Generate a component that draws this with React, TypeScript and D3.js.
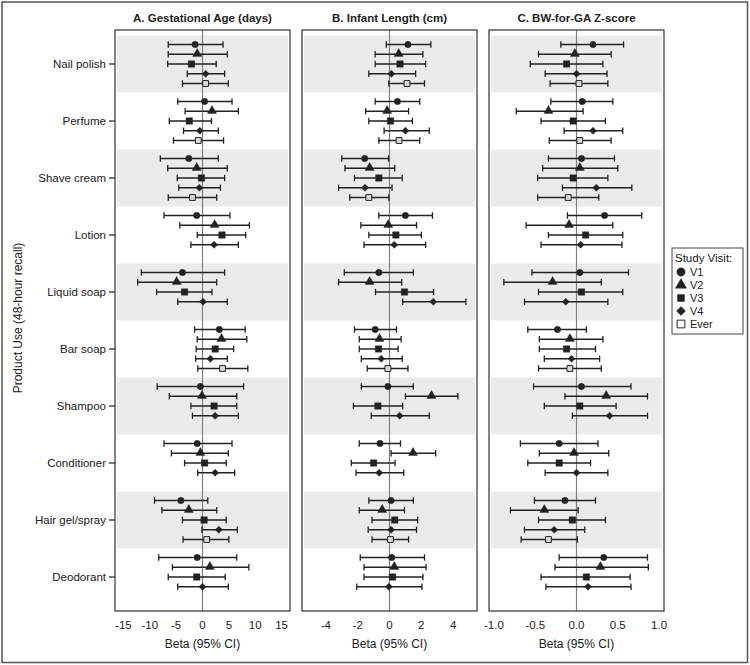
import React, { useEffect, useRef } from 'react';
import * as d3 from 'd3';

// Product categories, top to bottom
const categories = [
  'Nail polish', 'Perfume', 'Shave cream', 'Lotion', 'Liquid soap',
  'Bar soap', 'Shampoo', 'Conditioner', 'Hair gel/spray', 'Deodorant',
];

const visits = ['V1', 'V2', 'V3', 'V4', 'Ever'];

const panelTitles = ['A. Gestational Age (days)', 'B. Infant Length (cm)', 'C. BW-for-GA Z-score'];

// [estimate, lower, upper] per visit (V1..V4, Ever); null where not estimated
const gestationalAge = [
  [[-1.4, -6.5, 3.9], [-1.0, -6.5, 4.7], [-2.1, -6.6, 2.6], [0.6, -2.9, 4.2], [0.6, -3.8, 4.9]],
  [[0.4, -4.7, 5.6], [1.8, -3.3, 6.8], [-2.5, -6.3, 1.7], [-0.5, -3.6, 3.0], [-0.8, -5.5, 4.0]],
  [[-2.6, -8.0, 3.0], [-1.1, -6.6, 4.7], [-0.2, -4.8, 4.2], [-0.6, -4.5, 3.4], [-1.9, -6.5, 2.7]],
  [[-1.1, -7.3, 5.2], [2.3, -4.3, 8.9], [3.7, -1.0, 8.2], [2.2, -2.2, 6.8], null],
  [[-3.8, -11.6, 4.2], [-4.9, -12.3, 2.7], [-3.4, -8.7, 1.8], [0.1, -4.7, 4.7], null],
  [[3.2, -1.5, 8.1], [3.6, -1.0, 8.4], [2.4, -1.2, 5.9], [1.5, -1.3, 4.7], [3.8, -0.9, 8.6]],
  [[-0.4, -8.6, 7.8], [-0.1, -6.3, 6.5], [2.2, -2.2, 6.5], [2.4, -1.9, 6.8], null],
  [[-1.0, -7.3, 5.6], [-0.4, -5.9, 4.9], [0.4, -3.4, 4.5], [2.4, -0.9, 6.1], null],
  [[-4.1, -9.1, 1.0], [-2.6, -7.7, 2.7], [0.3, -3.8, 4.5], [3.1, -0.1, 6.6], [0.8, -3.7, 5.0]],
  [[-1.0, -8.3, 6.5], [1.4, -5.7, 8.8], [-1.1, -6.5, 4.3], [0.0, -4.7, 4.9], null],
];

const infantLength = [
  [[1.16, -0.2, 2.6], [0.58, -0.9, 2.1], [0.66, -0.9, 2.27], [0.12, -1.3, 1.64], [1.1, -0.04, 2.2]],
  [[0.5, -0.9, 1.9], [-0.15, -1.5, 1.2], [0.06, -1.3, 1.44], [1.0, -0.34, 2.5], [0.6, -0.67, 1.9]],
  [[-1.56, -3.0, -0.06], [-1.25, -2.8, 0.33], [-0.67, -2.2, 0.8], [-1.54, -3.2, 0.16], [-1.3, -2.5, -0.04]],
  [[1.0, -0.67, 2.7], [-0.08, -1.8, 1.7], [0.4, -1.3, 2.0], [0.3, -1.6, 2.27], null],
  [[-0.67, -2.84, 1.5], [-1.25, -3.2, 0.77], [0.94, -0.88, 2.77], [2.75, 0.83, 4.8], null],
  [[-0.9, -2.2, 0.44], [-0.63, -1.9, 0.73], [-0.69, -1.9, 0.54], [-0.52, -1.77, 0.8], [-0.1, -1.4, 1.16]],
  [[-0.1, -1.77, 1.5], [2.64, 1.0, 4.3], [-0.73, -2.27, 0.83], [0.64, -1.15, 2.5], null],
  [[-0.6, -1.9, 0.69], [1.48, 0.1, 2.9], [-1.0, -2.4, 0.35], [-0.65, -2.1, 0.9], null],
  [[0.1, -1.3, 1.5], [-0.46, -1.9, 0.94], [0.33, -1.1, 1.77], [0.1, -1.34, 1.7], [0.06, -1.1, 1.2]],
  [[0.14, -1.84, 2.2], [0.3, -1.6, 2.3], [0.19, -1.6, 2.1], [-0.04, -2.06, 2.04], null],
];

const bwZScore = [
  [[0.2, -0.19, 0.57], [-0.02, -0.46, 0.42], [-0.12, -0.56, 0.32], [0.0, -0.38, 0.37], [0.03, -0.32, 0.38]],
  [[0.07, -0.31, 0.44], [-0.34, -0.73, 0.08], [-0.04, -0.43, 0.35], [0.2, -0.15, 0.56], [0.04, -0.33, 0.42]],
  [[0.06, -0.34, 0.46], [0.04, -0.41, 0.5], [-0.04, -0.47, 0.38], [0.24, -0.17, 0.67], [-0.1, -0.47, 0.27]],
  [[0.34, -0.11, 0.79], [-0.09, -0.61, 0.44], [0.11, -0.34, 0.56], [0.05, -0.43, 0.55], null],
  [[0.04, -0.54, 0.63], [-0.29, -0.88, 0.3], [0.06, -0.46, 0.56], [-0.13, -0.63, 0.38], null],
  [[-0.23, -0.59, 0.12], [-0.08, -0.45, 0.32], [-0.12, -0.45, 0.23], [-0.06, -0.39, 0.28], [-0.08, -0.46, 0.3]],
  [[0.06, -0.52, 0.66], [0.36, -0.14, 0.86], [0.04, -0.39, 0.48], [0.4, -0.05, 0.86], null],
  [[-0.21, -0.68, 0.26], [-0.03, -0.45, 0.39], [-0.21, -0.59, 0.17], [0.0, -0.38, 0.38], null],
  [[-0.14, -0.51, 0.23], [-0.39, -0.8, 0.02], [-0.05, -0.46, 0.35], [-0.27, -0.63, 0.1], [-0.34, -0.67, 0.01]],
  [[0.33, -0.21, 0.86], [0.29, -0.26, 0.87], [0.12, -0.43, 0.65], [0.14, -0.37, 0.66], null],
];

const xTicksA = [-15, -10, -5, 0, 5, 10, 15];
const xTicksB = [-4, -2, 0, 2, 4];
const xTicksC = [-1.0, -0.5, 0.0, 0.5, 1.0];

// plain hyphen for negatives, as in the original figure
const fmtInt = (v) => d3.format('d')(v).replace('\u2212', '-');
const fmtDec = (v) => d3.format('.1f')(v).replace('\u2212', '-');

const App = () => {
  const ref = useRef(null);

  useEffect(() => {
    const root = d3.select(ref.current);
    root.selectAll('*').remove();

    const W = 750;
    const H = 665;
    const font = 'Liberation Sans, Arial, sans-serif';
    const ink = '#222';

    const svg = root
      .append('svg')
      .attr('width', W)
      .attr('height', H)
      .style('position', 'absolute')
      .style('left', '0px')
      .style('top', '0px')
      .style('font-family', font);

    svg.append('rect').attr('width', W).attr('height', H).attr('fill', '#fff');

    // outer frame
    svg.append('rect')
      .attr('x', 2).attr('y', 2).attr('width', W - 4.5).attr('height', H - 4.5)
      .attr('fill', 'none').attr('stroke', '#555').attr('stroke-width', 1.5);

    const top = 30;
    const bottom = 611;

    const y = d3.scaleBand().domain(categories).range([35.5, 605.5]).paddingInner(0);
    const dy = d3.scalePoint().domain(visits).range([-19.5, 19.5]);

    // V4 diamond is a square turned 45 degrees
    const symbols = [d3.symbolCircle, d3.symbolTriangle, d3.symbolSquare, d3.symbolSquare, d3.symbolSquare];
    const rotations = [0, 0, 0, 45, 0];
    const sizes = [32, 36, 42, 26, 34];

    const panels = [
      { x0: 115, x1: 290, domain: [-16.6, 16.6], ticks: xTicksA, fmt: fmtInt, data: gestationalAge },
      { x0: 302, x1: 477, domain: [-5.5, 5.5], ticks: xTicksB, fmt: fmtInt, data: infantLength },
      { x0: 489, x1: 664, domain: [-1.06, 1.06], ticks: xTicksC, fmt: fmtDec, data: bwZScore },
    ];

    panels.forEach((p, pi) => {
      const x = d3.scaleLinear().domain(p.domain).range([p.x0, p.x1]);
      const g = svg.append('g');

      // alternating shaded bands
      categories.forEach((c, ci) => {
        if (ci % 2 === 0) {
          g.append('rect')
            .attr('x', p.x0 + 2).attr('y', y(c))
            .attr('width', p.x1 - p.x0 - 4).attr('height', y.bandwidth())
            .attr('fill', '#ebebeb');
        }
      });

      // reference line at zero
      g.append('line')
        .attr('x1', x(0)).attr('x2', x(0)).attr('y1', top).attr('y2', bottom)
        .attr('stroke', '#808080').attr('stroke-width', 1.2);

      // error bars and markers
      p.data.forEach((rows, ci) => {
        const cy = y(categories[ci]) + y.bandwidth() / 2;
        rows.forEach((r, vi) => {
          if (!r) return;
          const [est, lo, hi] = r;
          const ry = cy + dy(visits[vi]);
          g.append('line')
            .attr('x1', x(lo)).attr('x2', x(hi)).attr('y1', ry).attr('y2', ry)
            .attr('stroke', ink).attr('stroke-width', 1.3);
          [lo, hi].forEach((v) => {
            g.append('line')
              .attr('x1', x(v)).attr('x2', x(v)).attr('y1', ry - 3.2).attr('y2', ry + 3.2)
              .attr('stroke', ink).attr('stroke-width', 1.3);
          });
          const ty = vi === 1 ? ry - 0.5 : ry;
          g.append('path')
            .attr('d', d3.symbol().type(symbols[vi]).size(sizes[vi])())
            .attr('transform', `translate(${x(est)},${ty}) rotate(${rotations[vi]})`)
            .attr('fill', vi === 4 ? '#d9d9d9' : ink)
            .attr('stroke', ink)
            .attr('stroke-width', vi === 4 ? 1 : 0.4);
        });
      });

      // panel frame
      g.append('rect')
        .attr('x', p.x0).attr('y', top).attr('width', p.x1 - p.x0).attr('height', bottom - top)
        .attr('fill', 'none').attr('stroke', '#333').attr('stroke-width', 1.2);

      // x tick labels
      p.ticks.forEach((t) => {
        g.append('text')
          .attr('x', x(t)).attr('y', 629)
          .attr('text-anchor', 'middle')
          .attr('font-size', 11.5).attr('fill', ink)
          .text(p.fmt(t));
      });

      g.append('text')
        .attr('x', (p.x0 + p.x1) / 2).attr('y', 648)
        .attr('text-anchor', 'middle')
        .attr('font-size', 12).attr('fill', ink)
        .text('Beta (95% CI)');

      g.append('text')
        .attr('x', (p.x0 + p.x1) / 2).attr('y', 22)
        .attr('text-anchor', 'middle')
        .attr('font-size', 11.5).attr('font-weight', 'bold').attr('fill', ink)
        .text(panelTitles[pi]);
    });

    // category axis
    categories.forEach((c) => {
      const cy = y(c) + y.bandwidth() / 2;
      svg.append('line')
        .attr('x1', 109).attr('x2', 115).attr('y1', cy).attr('y2', cy)
        .attr('stroke', ink).attr('stroke-width', 1.2);
      svg.append('text')
        .attr('x', 106).attr('y', cy + 4)
        .attr('text-anchor', 'end')
        .attr('font-size', 11.5).attr('fill', ink)
        .text(c);
    });

    svg.append('text')
      .attr('transform', 'translate(22,318) rotate(-90)')
      .attr('text-anchor', 'middle')
      .attr('font-size', 12).attr('fill', ink)
      .text('Product Use (48-hour recall)');

    // legend
    const lg = svg.append('g');
    lg.append('rect')
      .attr('x', 672).attr('y', 248).attr('width', 71).attr('height', 86)
      .attr('fill', '#fff').attr('stroke', '#444').attr('stroke-width', 1);
    lg.append('text')
      .attr('x', 675).attr('y', 262)
      .attr('font-size', 11.5).attr('fill', ink)
      .text('Study Visit:');
    const legendSizes = [55, 55, 50, 40, 60];
    visits.forEach((v, vi) => {
      const ly = 272 + vi * 13;
      lg.append('path')
        .attr('d', d3.symbol().type(symbols[vi]).size(legendSizes[vi])())
        .attr('transform', `translate(681,${ly}) rotate(${rotations[vi]})`)
        .attr('fill', vi === 4 ? '#fff' : ink)
        .attr('stroke', ink)
        .attr('stroke-width', vi === 4 ? 1 : 0.4);
      lg.append('text')
        .attr('x', 690).attr('y', ly + 4)
        .attr('font-size', 11).attr('fill', ink)
        .text(v);
    });
  }, []);

  return <div ref={ref} style={{ width: '750px', height: '665px' }}></div>;
};

export default App;
